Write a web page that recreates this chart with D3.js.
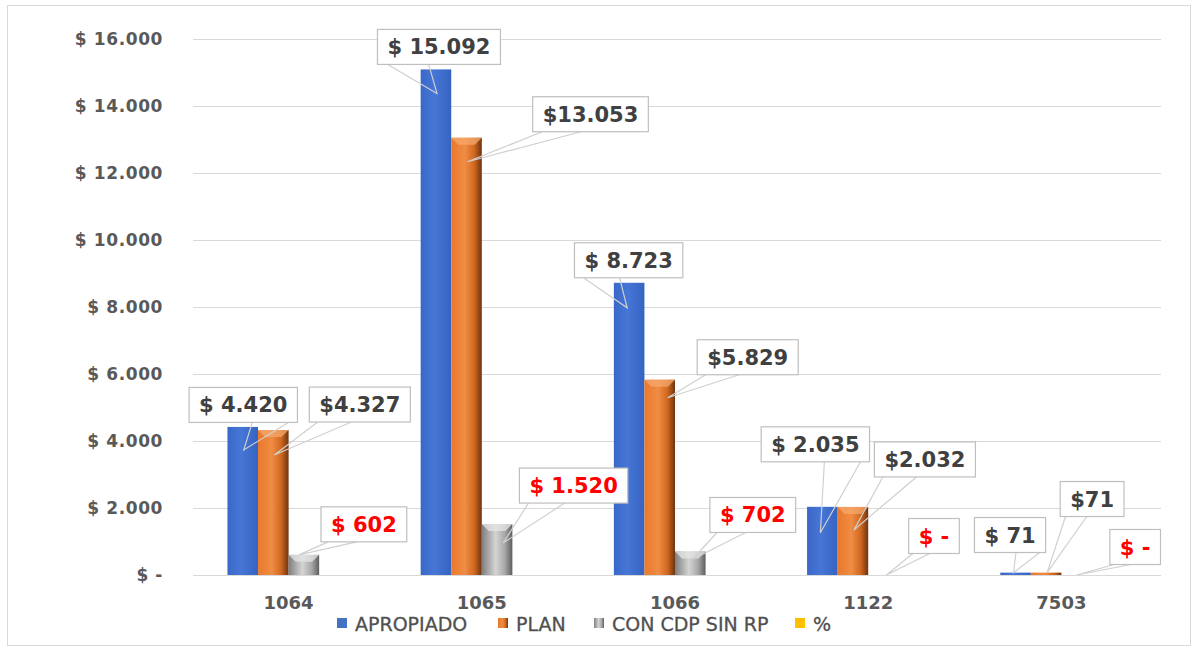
<!DOCTYPE html>
<html lang="es">
<head>
<meta charset="UTF-8">
<title>Apropiado vs Plan</title>
<script src="https://d3js.org/d3.v7.min.js"></script>
<style>
  body { margin: 0; padding: 0; background: #fff; }
  svg { display: block; }
  text { font-family: "DejaVu Sans", sans-serif; }
</style>
</head>
<body>
<svg id="chart" width="1197" height="650"></svg>
<script>
// data
const categories = ["1064", "1065", "1066", "1122", "7503"];
const apropiado = [4420, 15092, 8723, 2035, 71];
const plan = [4327, 13053, 5829, 2032, 71];
const conCdp = [602, 1520, 702, 0, 0];
const pct = [0, 0, 0, 0, 0];
const seriesNames = ["APROPIADO", "PLAN", "CON CDP SIN RP", "%"];
const yTicks = [0, 2000, 4000, 6000, 8000, 10000, 12000, 14000, 16000];

// callout placement (box centre relative to the bar top, tip offset)
const boxOffsets = [
  [[0.5, -22], [3, -22.5], [-0.5, -22.5], [-7, -62.5], [-5.5, -37.6]],
  [[86.5, -25.5], [124, -23.5], [88, -22.5], [72, -47.5], [46, -73.6]],
  [[60, -30.5], [76.5, -38.5], [62.5, -36.5], [50.5, -39], [58.5, -28]]
];
const tipOffsets = [
  [[1, 23], [1, 24], [-2, 25], [-2, 26], [-2, 0]],
  [[1, 25], [1, 24], [8, 18], [1, 23], [1, 0]],
  [[-5, 0], [6, 19], [2, 8], [3, 0], [0, 0]]
];

const series = [apropiado, plan, conCdp, pct];

const svg = d3.select("#chart");

const loc = d3.formatLocale({ decimal: ",", thousands: ".", grouping: [3], currency: ["$", ""] });
const fmt = loc.format(",d");

// chart frame
svg.append("rect")
  .attr("x", 7.5).attr("y", 5.5).attr("width", 1183).attr("height", 640)
  .attr("fill", "#fff").attr("stroke", "#d9d9d9");

const x = d3.scaleBand().domain(categories).range([192, 1158]).padding(0);
const xs = d3.scaleBand().domain(d3.range(4)).range([0, x.bandwidth()])
  .paddingInner(0).paddingOuter(1.16);
const y = d3.scaleLinear().domain([0, 16000]).range([575, 39]);

// gradients
const defs = svg.append("defs");
function grad(id, stops) {
  const g = defs.append("linearGradient").attr("id", id)
    .attr("x1", "0%").attr("x2", "100%").attr("y1", "0%").attr("y2", "0%");
  stops.forEach(s => g.append("stop").attr("offset", s[0]).attr("stop-color", s[1]));
}
grad("gBlue", [["0%", "#3a68c8"], ["45%", "#4676d6"], ["100%", "#3563c0"]]);
grad("gOrange", [["0%", "#e9792c"], ["45%", "#f08c44"], ["75%", "#d1681f"], ["100%", "#6e3410"]]);
grad("gGray", [["0%", "#7f7f7f"], ["45%", "#d4d4d4"], ["75%", "#a8a8a8"], ["100%", "#5e5e5e"]]);
grad("gYellow", [["0%", "#ffc000"], ["100%", "#e0a800"]]);
const fills = ["url(#gBlue)", "url(#gOrange)", "url(#gGray)", "url(#gYellow)"];
const bevel = [null, "#f6a86c", "#e6e6e6", null];

// gridlines
svg.append("g").selectAll("line").data(yTicks).join("line")
  .attr("x1", 193).attr("x2", 1161)
  .attr("y1", d => Math.round(y(d)) + 0.5).attr("y2", d => Math.round(y(d)) + 0.5)
  .attr("stroke", "#d9d9d9").attr("stroke-width", 1);

// y axis labels
svg.append("g").selectAll("text").data(yTicks).join("text")
  .attr("x", 163).attr("y", d => y(d) + 6)
  .attr("text-anchor", "end")
  .attr("font-size", 17).attr("font-weight", "bold")
  .attr("letter-spacing", 0.6)
  .attr("fill", "#595959")
  .text(d => d === 0 ? "$ -" : "$ " + fmt(d));

// bars
const barsG = svg.append("g");
series.forEach((vals, si) => {
  vals.forEach((v, ci) => {
    if (v <= 0) return;
    const bx = x(categories[ci]) + xs(si);
    const bw = xs.bandwidth();
    const by = y(v);
    const bh = y(0) - by;
    barsG.append("rect")
      .attr("x", bx).attr("y", by).attr("width", bw).attr("height", bh)
      .attr("fill", fills[si]);
    if (bevel[si] && bh > 10) {
      const b = 7;
      barsG.append("path")
        .attr("d", `M${bx},${by}L${bx + bw},${by}L${bx + bw - b},${by + b}L${bx + b},${by + b}Z`)
        .attr("fill", bevel[si]).attr("opacity", 0.75);
    }
  });
});

// category labels
svg.append("g").selectAll("text").data(categories).join("text")
  .attr("x", d => x(d) + x.bandwidth() / 2).attr("y", 609)
  .attr("text-anchor", "middle")
  .attr("font-size", 18).attr("font-weight", "bold")
  .attr("fill", "#595959")
  .text(d => d);

// callouts
const labG = svg.append("g");
[apropiado, plan, conCdp].forEach((vals, si) => {
  vals.forEach((v, ci) => {
    const cx = x(categories[ci]) + xs(si) + xs.bandwidth() / 2;
    const top = y(v);
    const [ox, oy] = boxOffsets[si][ci];
    const [tx, ty] = tipOffsets[si][ci];
    const label = v === 0 ? "$ -" : (si === 1 ? "$" : "$ ") + fmt(v);
    const color = si === 2 ? "#ff0000" : "#404040";
    const g = labG.append("g");
    const t = g.append("text")
      .attr("text-anchor", "middle")
      .attr("font-size", 21).attr("font-weight", "bold")
      .attr("fill", color)
      .text(label);
    const tw = t.node().getComputedTextLength();
    const bw = tw + 20, bh = 35;
    const bx = cx + ox - bw / 2, by = top + oy - bh / 2;
    const tipX = cx + tx, tipY = top + ty;
    // wedge base on the bottom edge, on the side the tip points to
    const left = tipX < bx + bw / 2;
    const b1 = bx + bw * (left ? 1 : 7) / 12, b2 = bx + bw * (left ? 5 : 11) / 12;
    g.insert("path", "text")
      .attr("d", `M${b1},${by + bh}L${tipX},${tipY}L${b2},${by + bh}`)
      .attr("fill", "none").attr("stroke", "#d0d0d0").attr("stroke-width", 1.2);
    g.insert("rect", "text")
      .attr("x", bx).attr("y", by).attr("width", bw).attr("height", bh)
      .attr("fill", "#fff").attr("stroke", "#bfbfbf").attr("stroke-width", 1.2);
    t.attr("x", bx + bw / 2).attr("y", by + bh / 2 + 7.5);
  });
});

// legend
const legendItems = [
  { name: seriesNames[0], fill: "#4472c4", x: 337 },
  { name: seriesNames[1], fill: "url(#gOrange)", x: 498 },
  { name: seriesNames[2], fill: "url(#gGray)", x: 594 },
  { name: seriesNames[3], fill: "#ffc000", x: 795 }
];
const lg = svg.append("g");
legendItems.forEach(it => {
  lg.append("rect").attr("x", it.x).attr("y", 618).attr("width", 10).attr("height", 10)
    .attr("fill", it.fill);
  lg.append("text").attr("x", it.x + 18).attr("y", 631)
    .attr("font-size", 19).attr("fill", "#505050")
    .attr("stroke", "#505050").attr("stroke-width", 0.3)
    .text(it.name);
});
</script>
</body>
</html>
